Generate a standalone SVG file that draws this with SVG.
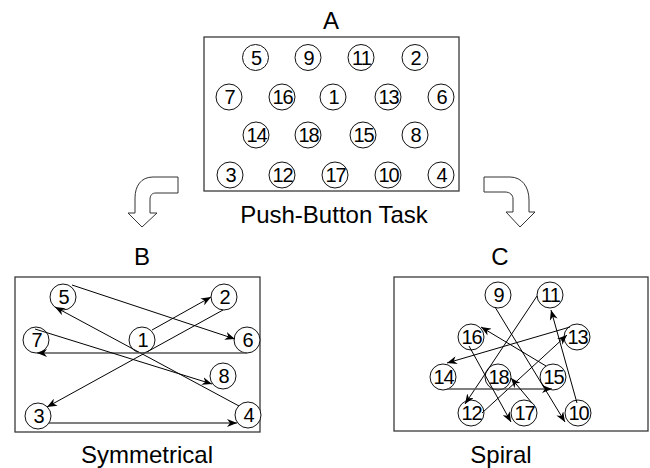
<svg xmlns="http://www.w3.org/2000/svg" width="650" height="468" viewBox="0 0 650 468">
<defs>
<style>
.bg{fill:#fff}
.box{fill:#fff;stroke:#3a3a3a;stroke-width:1.3}
.node circle{fill:#fff;stroke:#111;stroke-width:1}
.node text{font-family:"Liberation Sans",Arial,sans-serif;font-size:20px;fill:#000;text-anchor:middle;letter-spacing:-1px}
.title{font-family:"Liberation Sans",Arial,sans-serif;font-size:24px;fill:#000;text-anchor:middle}
.conn line{stroke:#000;stroke-width:1;fill:none;marker-end:url(#ah)}
.conn line.h{stroke:#555;stroke-width:1.6}
.blk{fill:#fff;stroke:#333;stroke-width:1}
</style>
<marker id="ah" markerUnits="userSpaceOnUse" markerWidth="11" markerHeight="8" refX="10" refY="4" orient="auto">
<path d="M0,0 L10,4 L0,8 L3,4 Z" fill="#000"/>
</marker>
</defs>
<rect class="bg" x="0" y="0" width="650" height="468"/>

<!-- Panel A -->
<text class="title" x="331" y="29">A</text>
<rect class="box" x="204" y="37" width="255" height="154"/>
<g id="A5" class="node"><circle cx="255.5" cy="57.5" r="13"/><text x="256" y="64.5">5</text></g>
<g id="A9" class="node"><circle cx="308" cy="57.5" r="13"/><text x="308.5" y="64.5">9</text></g>
<g id="A11" class="node"><circle cx="361" cy="57.5" r="13"/><text x="361.5" y="64.5">11</text></g>
<g id="A2" class="node"><circle cx="415" cy="57.5" r="13"/><text x="415.5" y="64.5">2</text></g>
<g id="A7" class="node"><circle cx="229" cy="97" r="13"/><text x="229.5" y="104">7</text></g>
<g id="A16" class="node"><circle cx="282" cy="97" r="13"/><text x="282.5" y="104">16</text></g>
<g id="A1" class="node"><circle cx="333" cy="97" r="13"/><text x="333.5" y="104">1</text></g>
<g id="A13" class="node"><circle cx="388" cy="97" r="13"/><text x="388.5" y="104">13</text></g>
<g id="A6" class="node"><circle cx="441" cy="97" r="13"/><text x="441.5" y="104">6</text></g>
<g id="A14" class="node"><circle cx="256" cy="135" r="13"/><text x="256.5" y="142">14</text></g>
<g id="A18" class="node"><circle cx="308" cy="135" r="13"/><text x="308.5" y="142">18</text></g>
<g id="A15" class="node"><circle cx="363" cy="135" r="13"/><text x="363.5" y="142">15</text></g>
<g id="A8" class="node"><circle cx="415" cy="135" r="13"/><text x="415.5" y="142">8</text></g>
<g id="A3" class="node"><circle cx="230" cy="175" r="13"/><text x="230.5" y="182">3</text></g>
<g id="A12" class="node"><circle cx="282" cy="175" r="13"/><text x="282.5" y="182">12</text></g>
<g id="A17" class="node"><circle cx="335" cy="175" r="13"/><text x="335.5" y="182">17</text></g>
<g id="A10" class="node"><circle cx="388" cy="175" r="13"/><text x="388.5" y="182">10</text></g>
<g id="A4" class="node"><circle cx="441" cy="175" r="13"/><text x="441.5" y="182">4</text></g>
<text class="title" x="334" y="223">Push-Button Task</text>

<!-- block arrows -->
<path id="arrowLeft" class="blk" d="M178,177 L153,177 C141,177 135,186 135,198 L135,213 L128,213 L142,227 L157,213 L150,213 L150,200 C150,195 152,193 156,193 L178,193 Z"/>
<path id="arrowRight" class="blk" d="M484,177 L510,177 C522,177 529,187 529,200 L529,212 L535,212 L520,227 L506,212 L513,212 L513,199 C513,195 510,192 505,192 L484,192 Z"/>

<!-- Panel B -->
<text class="title" x="142" y="265">B</text>
<rect class="box" x="15" y="277" width="245" height="155"/>
<g id="B5" class="node"><circle cx="63" cy="297" r="13"/><text x="63.5" y="304">5</text></g>
<g id="B2" class="node"><circle cx="224" cy="297" r="13"/><text x="224.5" y="304">2</text></g>
<g id="B7" class="node"><circle cx="36" cy="340" r="13"/><text x="36.5" y="347">7</text></g>
<g id="B1" class="node"><circle cx="142" cy="340" r="13"/><text x="142.5" y="347">1</text></g>
<g id="B6" class="node"><circle cx="247" cy="340" r="13"/><text x="247.5" y="347">6</text></g>
<g id="B8" class="node"><circle cx="223" cy="376" r="13"/><text x="223.5" y="383">8</text></g>
<g id="B3" class="node"><circle cx="38" cy="416" r="13"/><text x="38.5" y="423">3</text></g>
<g id="B4" class="node"><circle cx="248" cy="415" r="13"/><text x="248.5" y="422">4</text></g>
<text class="title" x="147" y="463">Symmetrical</text>

<!-- Panel C -->
<text class="title" x="500" y="265">C</text>
<rect class="box" x="394" y="277" width="254" height="154"/>
<g id="C9" class="node"><circle cx="498" cy="295" r="13"/><text x="498.5" y="302">9</text></g>
<g id="C11" class="node"><circle cx="550" cy="295" r="13"/><text x="550.5" y="302">11</text></g>
<g id="C16" class="node"><circle cx="471" cy="337" r="13"/><text x="471.5" y="344">16</text></g>
<g id="C13" class="node"><circle cx="577" cy="337" r="13"/><text x="577.5" y="344">13</text></g>
<g id="C14" class="node"><circle cx="443" cy="377" r="13"/><text x="443.5" y="384">14</text></g>
<g id="C18" class="node"><circle cx="498" cy="377" r="13"/><text x="498.5" y="384">18</text></g>
<g id="C15" class="node"><circle cx="553" cy="377" r="13"/><text x="553.5" y="384">15</text></g>
<g id="C12" class="node"><circle cx="471" cy="413" r="13"/><text x="471.5" y="420">12</text></g>
<g id="C17" class="node"><circle cx="524" cy="413" r="13"/><text x="524.5" y="420">17</text></g>
<g id="C10" class="node"><circle cx="578" cy="413" r="13"/><text x="578.5" y="420">10</text></g>
<text class="title" x="501" y="463">Spiral</text>

<!-- connectors -->
<g id="connectors" class="conn">
<line x1="152" y1="330" x2="211" y2="297"/>
<line x1="223" y1="310" x2="47" y2="407"/>
<line x1="49" y1="423" x2="237" y2="423"/>
<line x1="239" y1="406" x2="55" y2="307"/>
<line x1="72" y1="285" x2="235" y2="339"/>
<line class="h" x1="247" y1="353" x2="37" y2="353"/>
<line x1="35" y1="329" x2="212" y2="384"/>

<line x1="495" y1="307" x2="565" y2="422"/>
<line x1="577" y1="403" x2="551" y2="310"/>
<line x1="537" y1="296" x2="465" y2="404"/>
<line x1="482" y1="413" x2="567" y2="335"/>
<line x1="570" y1="327" x2="447" y2="363"/>
<line class="h" x1="447" y1="389" x2="552" y2="389"/>
<line x1="546" y1="366" x2="481" y2="327"/>
<line x1="469" y1="346" x2="511" y2="422"/>
<line x1="532" y1="403" x2="511" y2="378"/>
</g>
</svg>
